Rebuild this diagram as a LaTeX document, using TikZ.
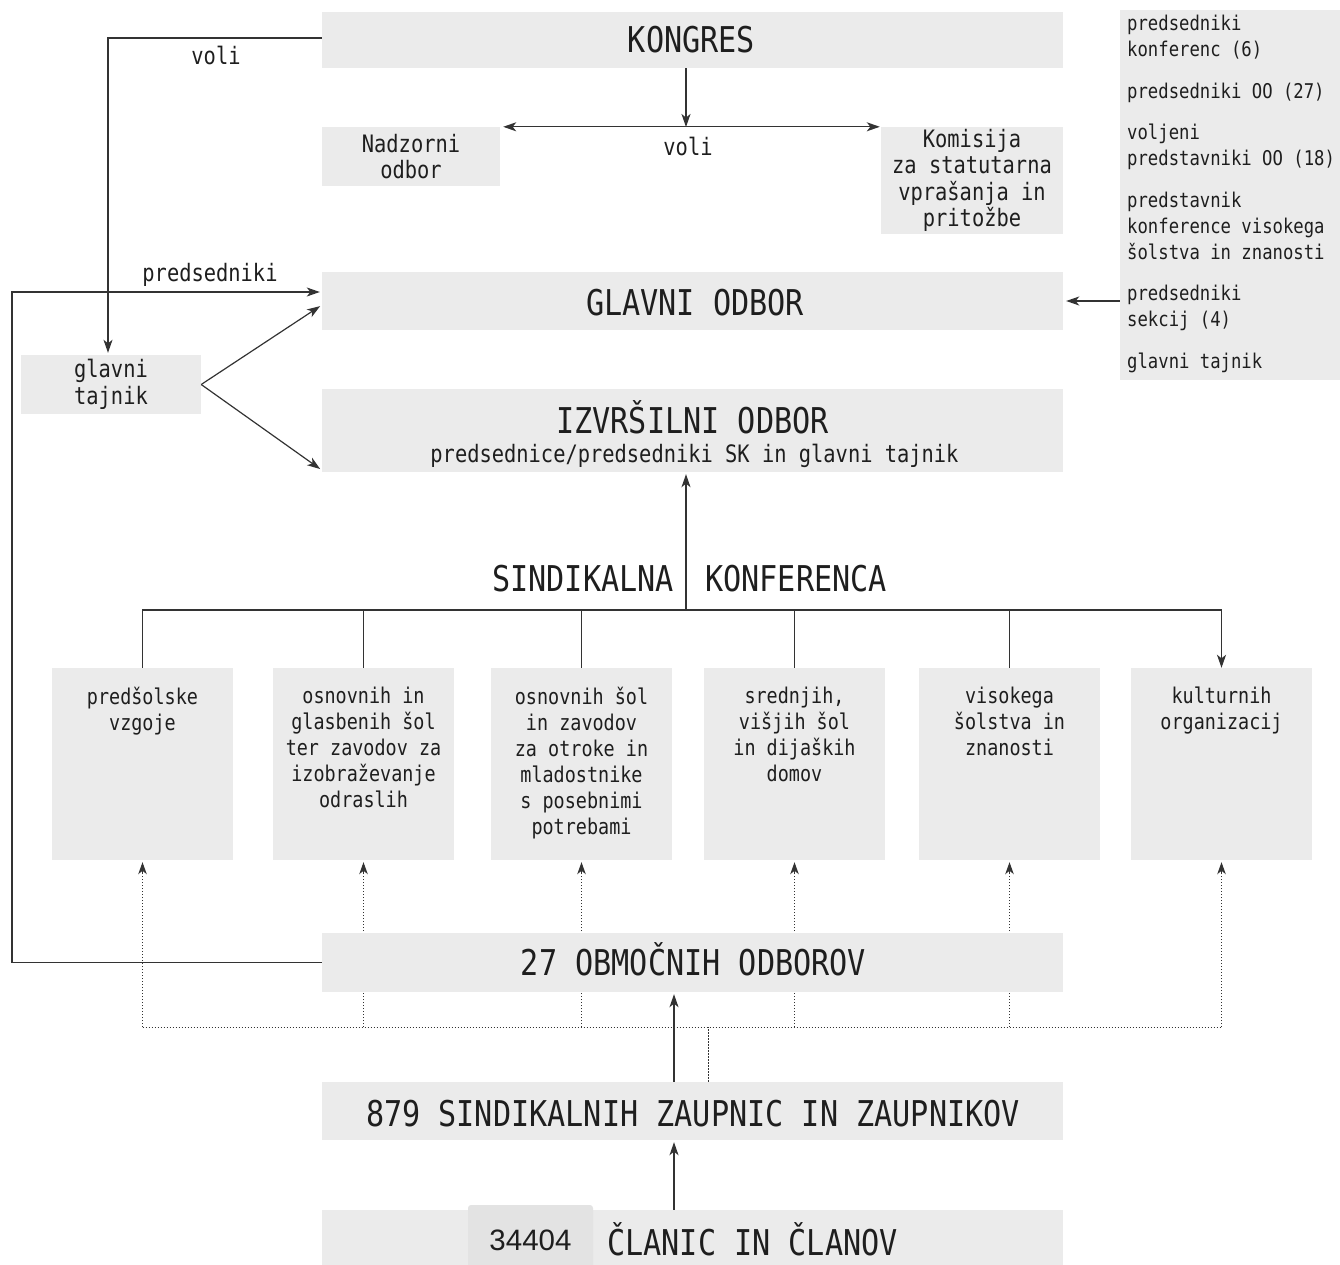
\documentclass[tikz,border=0pt]{standalone}
\usepackage{fontspec}
\setmainfont{DejaVu Sans Mono}[FakeStretch=0.85]
\newfontfamily\arialf{Liberation Sans}
\usetikzlibrary{arrows.meta,backgrounds}
\definecolor{boxgray}{HTML}{EBEBEB}
\definecolor{numgray}{HTML}{E3E3E3}
\definecolor{linec}{HTML}{333333}
\definecolor{txt}{HTML}{1E1E1E}
\begin{document}
\begin{tikzpicture}[x=1pt,y=-1pt,
  box/.style={fill=boxgray, draw=none, inner sep=0pt, text=txt, align=center},
  lbl/.style={inner sep=0pt, text=txt, align=center},
  big/.style={font=\fontsize{35.5}{40}\selectfont},
  med/.style={font=\fontsize{24}{26.5}\selectfont},
  sml/.style={font=\fontsize{21.7}{26}\selectfont},
  rsml/.style={font=\fontsize{20.3}{26}\selectfont},
  conn/.style={draw=linec, line width=1.2pt},
  arr/.style={conn, -{Stealth[length=13pt,width=9pt,inset=3.5pt]}},
  dbl/.style={conn, {Stealth[length=13pt,width=9pt,inset=3.5pt]}-{Stealth[length=13pt,width=9pt,inset=3.5pt]}},
  dotl/.style={draw=linec, line width=0.9pt, dash pattern=on 1.5pt off 1.5pt},
  tiparr/.style={draw=linec, line width=0.9pt, -{Stealth[length=12pt,width=8.5pt,inset=3.5pt]}},
  tallbox/.style={box, minimum width=181pt, minimum height=192pt},
]
\useasboundingbox (0,0) rectangle (1340,1265);

% --- top level
\node[box, minimum width=741pt, minimum height=56pt] (kongres) at (692.5,40) {};
\node[lbl, big, anchor=base] (kongrest) at (691.5,52.5) {KONGRES};
\node[box, med, minimum width=178pt, minimum height=59pt] (nadzorni) at (411,156.5) {Nadzorni\\odbor};
\node[box, med, minimum width=182pt, minimum height=107pt] (komisija) at (972,180.5) {Komisija\\za statutarna\\vprašanja in\\pritožbe};
\node[lbl, med, anchor=base] (voli1) at (688,156) {voli};
\node[lbl, med, anchor=base] (voli2) at (216,65) {voli};
\node[lbl, med, anchor=base] (preds) at (210,281) {predsedniki};

\node[box, minimum width=741pt, minimum height=58pt] (godbor) at (692.5,301) {};
\node[lbl, big, anchor=base] (godbort) at (695,315) {GLAVNI ODBOR};

\node[box, minimum width=220pt, minimum height=370pt] (rcol) at (1230,195) {};
\node[lbl, rsml, align=left, anchor=north west] (rcolt) at (1127,15) {predsedniki\\konferenc (6)\\[15.5pt]predsedniki OO (27)\\[15.5pt]voljeni\\predstavniki OO (18)\\[15.5pt]predstavnik\\konference visokega\\šolstva in znanosti\\[15.5pt]predsedniki\\sekcij (4)\\[15.5pt]glavni tajnik};

\node[box, med, minimum width=180pt, minimum height=59pt] (tajnik) at (111,384.5) {glavni\\tajnik};

\node[box, minimum width=741pt, minimum height=83pt] (izvrsilni) at (692.5,430.5) {};
\node[lbl, big, anchor=base] (izvt) at (692.5,433) {IZVRŠILNI ODBOR};
\node[lbl, med, anchor=base] (izvs) at (694.5,462) {predsednice/predsedniki SK in glavni tajnik};

% --- sindikalna konferenca
\coordinate (sk) at (686,610);
\node[lbl, big, anchor=base] (sind) at (583,591) {SINDIKALNA};
\node[lbl, big, anchor=base] (konf) at (796,591) {KONFERENCA};

\node[tallbox] (b1) at (142.5,764) {};
\node[tallbox] (b2) at (363.5,764) {};
\node[tallbox] (b3) at (581.5,764) {};
\node[tallbox] (b4) at (794.5,764) {};
\node[tallbox] (b5) at (1009.5,764) {};
\node[tallbox] (b6) at (1221.5,764) {};
\node[lbl, sml, anchor=north] (t1) at (142.5,687) {predšolske\\vzgoje};
\node[lbl, sml, anchor=north] (t2) at (363.5,687) {osnovnih in\\glasbenih šol\\ter zavodov za\\izobraževanje\\odraslih};
\node[lbl, sml, anchor=north] (t3) at (581.5,687) {osnovnih šol\\in zavodov\\za otroke in\\mladostnike\\s posebnimi\\potrebami};
\node[lbl, sml, anchor=north] (t4) at (794.5,687) {srednjih,\\višjih šol\\in dijaških\\domov};
\node[lbl, sml, anchor=north] (t5) at (1009.5,687) {visokega\\šolstva in\\znanosti};
\node[lbl, sml, anchor=north] (t6) at (1221.5,687) {kulturnih\\organizacij};

% --- bottom
\node[box, minimum width=741pt, minimum height=59pt] (obmocni) at (692.5,962.5) {};
\node[lbl, big, anchor=base] (obmt) at (693.5,975) {27 OBMOČNIH ODBOROV};
\node[box, minimum width=741pt, minimum height=58pt] (zaupnic) at (692.5,1111) {};
\node[lbl, big, anchor=base] (zaut) at (693,1126) {879 SINDIKALNIH ZAUPNIC IN ZAUPNIKOV};
\node[box, minimum width=741pt, minimum height=55pt] (clanic) at (692.5,1237.5) {};
\node[fill=numgray, rounded corners=3pt, minimum width=125pt, minimum height=64pt, inner sep=0pt] (num) at (530.5,1237) {};
\node[lbl, font=\arialf\fontsize{29.5}{32}\selectfont, anchor=base] (numt) at (530.5,1250) {34404};
\node[lbl, big, anchor=base] (clant) at (752.5,1255) {ČLANIC IN ČLANOV};

% --- connectors
\draw[arr, shorten >=2pt] ([yshift=2pt]kongres.west) -| ([xshift=-3pt]tajnik.north);
\coordinate (lc) at (12,962.5);
\draw[arr, shorten >=2pt] (obmocni.west) -- (lc) |- ([yshift=9pt]godbor.west);
\draw[arr, shorten >=2pt] (tajnik.east) -- ([yshift=-4pt]godbor.west);
\draw[arr, shorten >=2pt] (tajnik.east) -- ([yshift=2pt]izvrsilni.south west);
\draw[arr, shorten >=3pt] (rcol.west |- godbor.east) -- (godbor.east);

\coordinate (vj) at (686,127);
\draw[arr] (kongres.south -| vj) -- (vj);
\draw[dbl] ([xshift=3pt]nadzorni.north east) -- ([xshift=-1pt]komisija.north west);

\draw[arr, shorten >=2pt] (sk) -- (sk |- izvrsilni.south);
\draw[arr] (b1.north) |- (sk) -- (b6.north |- sk) -- (b6.north);
\draw[conn] (b2.north) -- (b2.north |- sk);
\draw[conn] (b3.north) -- (b3.north |- sk);
\draw[conn] (b4.north) -- (b4.north |- sk);
\draw[conn] (b5.north) -- (b5.north |- sk);

\coordinate (dl) at (692.5,1027);
\begin{scope}[on background layer]
  \draw[dotl] (b1.south |- dl) -- (b6.south |- dl);
  \foreach \bx in {b1,b2,b3,b4,b5,b6} {
    \draw[dotl] (\bx.south |- dl) -- ([yshift=-12pt]\bx.south);
    \draw[tiparr] ([yshift=-14pt]\bx.south) -- ([yshift=-2pt]\bx.south);
  }
  \draw[dotl] ([xshift=15.5pt]zaupnic.north) -- ([xshift=15.5pt]zaupnic.north |- dl);
\end{scope}

\draw[arr, shorten >=2pt] ([xshift=-18.5pt]zaupnic.north) -- ([xshift=-18.5pt]obmocni.south);
\draw[arr, shorten >=2pt] ([xshift=-18.5pt]clanic.north) -- ([xshift=-18.5pt]zaupnic.south);
\end{tikzpicture}
\end{document}
